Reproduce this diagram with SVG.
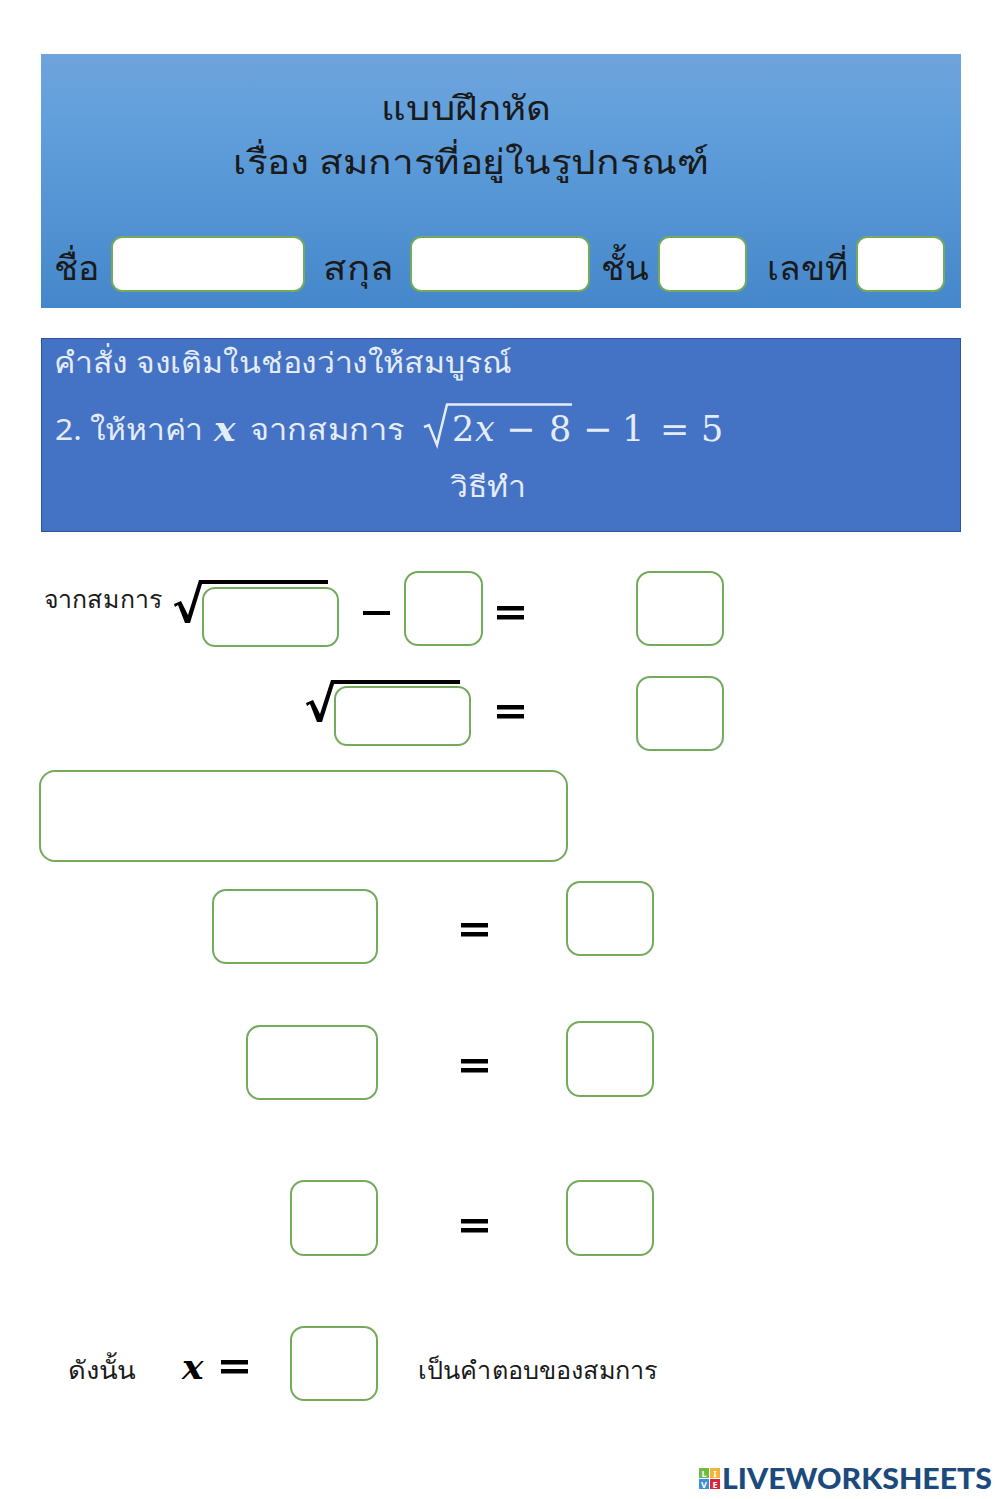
<svg xmlns="http://www.w3.org/2000/svg" width="1000" height="1499" viewBox="0 0 1000 1499">
<defs>
<linearGradient id="hdr" x1="0" y1="0" x2="0" y2="1"><stop offset="0" stop-color="#6fa3dc"/><stop offset="0.25" stop-color="#62a0dc"/><stop offset="1" stop-color="#4587cb"/></linearGradient>
</defs>
<style>
text{font-family:"Noto Sans","Liberation Sans","DejaVu Sans",sans-serif}
.b{fill:#fff;stroke:#74aa5c;stroke-width:2}
.d{fill:#1a1a1a}
.w{fill:#e4ecf8}
text.m{font-family:"DejaVu Serif","Liberation Serif",serif}
.e{fill:#000}
.l{fill:#fff;font-size:9px;font-weight:bold;text-anchor:middle}
</style>
<rect width="1000" height="1499" fill="#fff"/>
<g id="header">
<rect x="41" y="54" width="920" height="254" fill="url(#hdr)"/>
<text class="d" x="466" y="120" font-size="34" text-anchor="middle" textLength="170" lengthAdjust="spacingAndGlyphs">แบบฝึกหัด</text>
<text class="d" x="471" y="174" font-size="34" text-anchor="middle" textLength="476" lengthAdjust="spacingAndGlyphs">เรื่อง สมการที่อยู่ในรูปกรณฑ์</text>
<text class="d" x="54" y="280" font-size="34" textLength="45" lengthAdjust="spacingAndGlyphs">ชื่อ</text>
<text class="d" x="323" y="280" font-size="34" textLength="71" lengthAdjust="spacingAndGlyphs">สกุล</text>
<text class="d" x="601" y="280" font-size="34" textLength="47" lengthAdjust="spacingAndGlyphs">ชั้น</text>
<text class="d" x="767" y="280" font-size="34" textLength="81" lengthAdjust="spacingAndGlyphs">เลขที่</text>
</g>
<g id="input-name"><rect class="b" x="112" y="237" width="192" height="54" rx="10"/></g>
<g id="input-surname"><rect class="b" x="411" y="237" width="178" height="54" rx="10"/></g>
<g id="input-class"><rect class="b" x="659" y="237" width="87" height="54" rx="10"/></g>
<g id="input-number"><rect class="b" x="857" y="237" width="87" height="54" rx="10"/></g>
<g id="instruction">
<rect x="41.500" y="338.500" width="919" height="193" fill="#4472c4" stroke="#2f5597"/>
<text class="w" x="54" y="373" font-size="29" textLength="458" lengthAdjust="spacingAndGlyphs">คำสั่ง จงเติมในช่องว่างให้สมบูรณ์</text>
<text class="w" x="55" y="440" font-size="29" textLength="148" lengthAdjust="spacingAndGlyphs">2. ให้หาค่า</text>
<text class="w m" x="214" y="441" font-size="36" font-style="italic" font-weight="bold">x</text>
<text class="w" x="250" y="440" font-size="29" textLength="155" lengthAdjust="spacingAndGlyphs">จากสมการ</text>
<path d="M424 427 L429 425 L437 445 L447 404.500 L572 404.500" fill="none" stroke="#e4ecf8" stroke-width="2.500"/>
<text class="w m" font-size="35" x="452" y="441">2</text>
<text class="w m" font-size="35" x="475" y="441" font-style="italic">x</text>
<text class="w m" font-size="35" x="506" y="441">−</text>
<text class="w m" font-size="35" x="549" y="441">8</text>
<text class="w m" font-size="35" x="583" y="441">−</text>
<text class="w m" font-size="35" x="622" y="441">1</text>
<text class="w m" font-size="35" x="660" y="441">=</text>
<text class="w m" font-size="35" x="701" y="441">5</text>
<text class="w" x="488" y="497" font-size="29" text-anchor="middle" textLength="76" lengthAdjust="spacingAndGlyphs">วิธีทำ</text>
</g>
<g id="label-from"><text class="d" x="44" y="608" font-size="24" textLength="118" lengthAdjust="spacingAndGlyphs">จากสมการ</text></g>
<g id="connectors">
<g class="e">
<path d="M174 604 L181 601 L188 615 L199 580 L328 580 L328 584 L202 584 L190 623 L185 623 L178 605 L175 607Z"/>
<path d="M306 703 L313 700 L320 714 L331 680 L460 680 L460 684 L334 684 L322 722 L317 722 L310 704 L307 706Z"/>
<rect x="363" y="611" width="27" height="4"/>
<rect x="497" y="606" width="27" height="4.500"/><rect x="497" y="615" width="27" height="4.500"/>
<rect x="497" y="705" width="27" height="4.500"/><rect x="497" y="714" width="27" height="4.500"/>
<rect x="461" y="923" width="27" height="4.500"/><rect x="461" y="932" width="27" height="4.500"/>
<rect x="461" y="1059" width="27" height="4.500"/><rect x="461" y="1068" width="27" height="4.500"/>
<rect x="461" y="1219" width="27" height="4.500"/><rect x="461" y="1228" width="27" height="4.500"/>
<rect x="221" y="1360" width="27" height="4.500"/><rect x="221" y="1369" width="27" height="4.500"/>
</g>
</g>
<g id="box-1"><rect class="b" x="203" y="588" width="135" height="58" rx="12"/></g>
<g id="box-2"><rect class="b" x="405" y="572" width="77" height="73" rx="13"/></g>
<g id="box-3"><rect class="b" x="637" y="572" width="86" height="73" rx="13"/></g>
<g id="box-4"><rect class="b" x="335" y="687" width="135" height="58" rx="12"/></g>
<g id="box-5"><rect class="b" x="637" y="677" width="86" height="73" rx="13"/></g>
<g id="box-6"><rect class="b" x="40" y="771" width="527" height="90" rx="15"/></g>
<g id="box-7"><rect class="b" x="213" y="890" width="164" height="73" rx="13"/></g>
<g id="box-8"><rect class="b" x="567" y="882" width="86" height="73" rx="13"/></g>
<g id="box-9"><rect class="b" x="247" y="1026" width="130" height="73" rx="13"/></g>
<g id="box-10"><rect class="b" x="567" y="1022" width="86" height="74" rx="13"/></g>
<g id="box-11"><rect class="b" x="291" y="1181" width="86" height="74" rx="13"/></g>
<g id="box-12"><rect class="b" x="567" y="1181" width="86" height="74" rx="13"/></g>
<g id="box-13"><rect class="b" x="291" y="1327" width="86" height="73" rx="13"/></g>
<g id="conclusion">
<text class="d" x="68" y="1379" font-size="25" textLength="68" lengthAdjust="spacingAndGlyphs">ดังนั้น</text>
<text class="e m" x="182" y="1379" font-size="36" font-style="italic" font-weight="bold">x</text>
<text class="d" x="418" y="1379" font-size="25" textLength="239" lengthAdjust="spacingAndGlyphs">เป็นคำตอบของสมการ</text>
</g>
<g id="logo">
<rect x="699" y="1468" width="10" height="10" fill="#6cbb45"/><rect x="710" y="1468" width="10" height="10" fill="#f5b335"/>
<rect x="699" y="1479" width="10" height="10" fill="#3d8fd9"/><rect x="710" y="1479" width="10" height="10" fill="#d8263f"/>
<text class="l" x="704" y="1477">L</text><text class="l" x="715" y="1477">I</text><text class="l" x="704" y="1488">V</text><text class="l" x="715" y="1488">E</text>
<text x="722" y="1489" font-size="29" font-weight="900" fill="#1c4a7d" style="font-family:'Lato','Liberation Sans',sans-serif" textLength="270" lengthAdjust="spacingAndGlyphs">LIVEWORKSHEETS</text>
</g>
</svg>
